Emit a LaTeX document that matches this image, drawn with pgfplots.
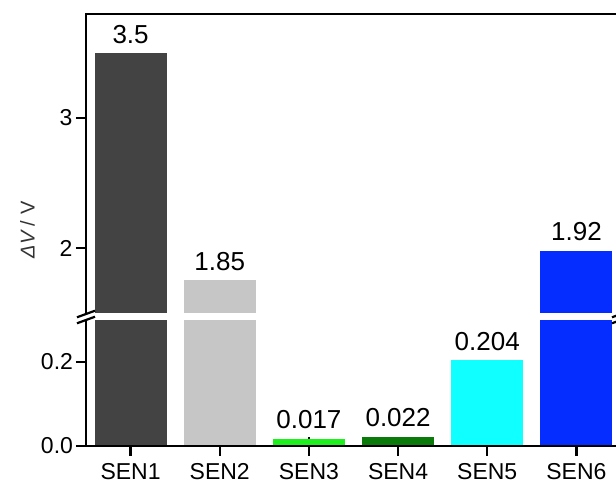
\documentclass[border=0pt]{standalone}
\usepackage{fontspec}
\setmainfont{Liberation Sans}
\usepackage{pgfplots}
\pgfplotsset{compat=1.18}
\definecolor{c1}{RGB}{67,67,67}
\definecolor{c2}{RGB}{198,198,198}
\definecolor{c3}{RGB}{30,240,30}
\definecolor{c4}{RGB}{10,122,10}
\definecolor{c5}{RGB}{16,255,255}
\definecolor{c6}{RGB}{5,45,255}
\begin{document}
\begin{tikzpicture}
\pgfplotsset{
  brk/.style={
    scale only axis, width=535pt, xmin=0.5, xmax=6.5,
    axis line style={draw=none},
    tick style={line width=2.4pt, black},
    /pgf/number format/assume math mode=true,
    ticklabel style={font=\fontsize{23}{27}\selectfont},
    ytick pos=left, xtick pos=bottom,
    ytick align=outside, major tick length=10pt,
    clip mode=individual,
  },
  mybar/.style={ybar, bar width=72pt, bar shift=0pt, draw=none, fill=#1},
  lbl/.style={draw=none, mark=none, nodes near coords, point meta=explicit symbolic,
    nodes near coords style={font=\fontsize{26}{30}\selectfont, anchor=south, inner sep=0pt, yshift=9.5pt}},
}
% lower panel
\begin{axis}[brk, name=low, at={(0pt,0pt)}, anchor=south west, height=125pt, ymin=0, ymax=0.2976,
  ytick={0,0.2}, yticklabels={0.0,0.2},
  yticklabel style={xshift=9.5pt},
  xticklabel style={yshift=-4pt},
  xtick={1,2,3,4,5,6}, xticklabels={SEN1,SEN2,SEN3,SEN4,SEN5,SEN6},
  major tick length=19pt, xtick align=center,
  ytick style={/pgfplots/major tick length=10pt}]
\addplot[mybar=c1] coordinates {(1,3.5)};
\addplot[mybar=c2] coordinates {(2,1.75)};
\addplot[mybar=c3] coordinates {(3,0.017)};
\addplot[mybar=c4] coordinates {(4,0.022)};
\addplot[mybar=c5] coordinates {(5,0.204)};
\addplot[mybar=c6] coordinates {(6,1.98)};
\addplot[lbl] coordinates {(3,0.017) [0.017] (4,0.022) [0.022] (5,0.204) [0.204]};
\end{axis}
% upper panel
\begin{axis}[brk, at={(0pt,133pt)}, anchor=south west, height=299pt, ymin=1.5, ymax=3.8,
  ytick={2,3}, xtick=\empty]
\addplot[mybar=c1] coordinates {(1,3.5)};
\addplot[mybar=c2] coordinates {(2,1.75)};
\addplot[mybar=c6] coordinates {(6,1.98)};
\addplot[lbl] coordinates {(1,3.5) [3.5] (2,1.75) [1.85] (6,1.98) [1.92]};
\end{axis}
% frame
\draw[line width=2.4pt, line join=miter] (0pt,125pt) -- (0pt,0pt) -- (535pt,0pt) -- (535pt,125pt);
\draw[line width=2.4pt, line join=miter] (0pt,133pt) -- (0pt,432pt) -- (535pt,432pt) -- (535pt,133pt);
% break marks
\draw[line width=2.2pt] (-9pt,128.7pt) -- (9pt,135.3pt);
\draw[line width=2.2pt] (-9pt,122.7pt) -- (9pt,129.3pt);
\draw[line width=2.2pt] (526pt,128.7pt) -- (544pt,135.3pt);
\draw[line width=2.2pt] (526pt,122.7pt) -- (544pt,129.3pt);
% y label
\node[rotate=90, text=black!80, font=\fontsize{20}{24}\selectfont] at (-58.5pt,216pt) {\itshape ΔV\upshape{} / V};
\pgfresetboundingbox
\useasboundingbox (-86pt,-36pt) rectangle (530pt,446pt);
\end{tikzpicture}
\end{document}
